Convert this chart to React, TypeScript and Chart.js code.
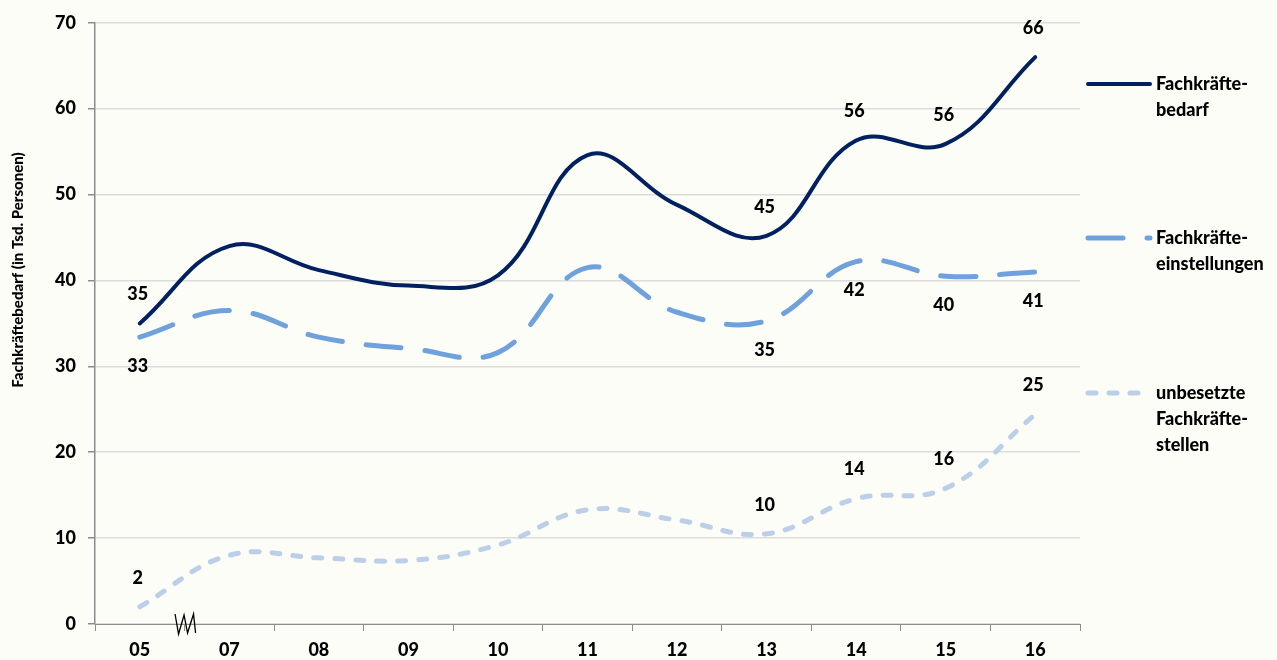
import React, { useEffect, useRef } from "react";
import { Chart, registerables } from "chart.js";

Chart.register(...registerables);

const categories = ["05", "07", "08", "09", "10", "11", "12", "13", "14", "15", "16"];
const bedarf = [35, 44, 41.2, 39.4, 40.6, 54.6, 48.8, 45.2, 56.3, 55.9, 66];
const einstellungen = [33.4, 36.5, 33.4, 32.1, 31.6, 41.5, 36.3, 35.3, 42.2, 40.5, 41];
const unbesetzt = [2, 8, 7.7, 7.4, 9.2, 13.3, 12.1, 10.5, 14.6, 15.8, 24.4];

const bedarfLabels = ["35", null, null, null, null, null, null, "45", "56", "56", "66"];
const einstellungenLabels = ["33", null, null, null, null, null, null, "35", "42", "40", "41"];
const unbesetztLabels = ["2", null, null, null, null, null, null, "10", "14", "16", "25"];

const seriesNames = [
  ["Fachkräfte-", "bedarf"],
  ["Fachkräfte-", "einstellungen"],
  ["unbesetzte", "Fachkräfte-", "stellen"],
];
const yTitle = "Fachkräftebedarf (in Tsd. Personen)";
const yTicks = [0, 10, 20, 30, 40, 50, 60, 70];

const FONT = "Lato, 'Noto Sans', sans-serif";
const WEIGHT = "900";
const BG = "#fdfdf8";

const labelSets = [bedarfLabels, einstellungenLabels, unbesetztLabels];
const labelSide = [-1, 1, -1];

const bgPlugin = {
  id: "bgFill",
  beforeDraw(chart: any) {
    const ctx = chart.ctx;
    ctx.save();
    ctx.fillStyle = BG;
    ctx.fillRect(0, 0, chart.width, chart.height);
    ctx.restore();
  },
};

const labelPlugin = {
  id: "pointLabels",
  afterDatasetsDraw(chart: any) {
    const ctx = chart.ctx;
    ctx.save();
    ctx.font = `${WEIGHT} 18px ${FONT}`;
    ctx.fillStyle = "#000";
    ctx.textAlign = "center";
    ctx.textBaseline = "middle";
    chart.data.datasets.forEach((ds: any, i: number) => {
      const meta = chart.getDatasetMeta(i);
      const labels = labelSets[i];
      meta.data.forEach((pt: any, j: number) => {
        const t = labels[j];
        if (t == null) return;
        ctx.fillText(t, pt.x - 2, pt.y + labelSide[i] * 29);
      });
    });
    ctx.restore();
  },
};

const titlePlugin = {
  id: "yTitle",
  afterDraw(chart: any) {
    const ctx = chart.ctx;
    ctx.save();
    ctx.translate(18, 270);
    ctx.rotate(-Math.PI / 2);
    ctx.font = `${WEIGHT} 15px ${FONT}`;
    ctx.fillStyle = "#000";
    ctx.textAlign = "center";
    ctx.textBaseline = "middle";
    ctx.fillText(yTitle, 0, 0);
    ctx.restore();
  },
};

const legendPlugin = {
  id: "customLegend",
  afterDraw(chart: any) {
    const ctx = chart.ctx;
    const area = chart.chartArea;
    const x0 = area.right + 8;
    const x1 = area.right + 70;
    const tx = area.right + 76;
    const ys = [84, 238, 393];
    ctx.save();
    chart.data.datasets.forEach((ds: any, i: number) => {
      const y = ys[i];
      ctx.beginPath();
      ctx.strokeStyle = ds.borderColor;
      ctx.lineWidth = ds.borderWidth;
      ctx.lineCap = "round";
      ctx.setLineDash(ds.borderDash || []);
      ctx.moveTo(x0, y);
      ctx.lineTo(x1, y);
      ctx.stroke();
      ctx.setLineDash([]);
      ctx.font = `${WEIGHT} 18px ${FONT}`;
      ctx.fillStyle = "#000";
      ctx.textAlign = "left";
      ctx.textBaseline = "middle";
      seriesNames[i].forEach((line, k) => {
        ctx.fillText(line, tx, y + k * 26);
      });
    });
    ctx.restore();
  },
};

const breakPlugin = {
  id: "axisBreak",
  afterDraw(chart: any) {
    const xs = chart.scales.x;
    const cx = (xs.getPixelForValue(0) + xs.getPixelForValue(1)) / 2;
    const cy = chart.chartArea.bottom;
    const pts = [
      [-9.5, -10],
      [-6, 10],
      [-0.5, -9],
      [3, 9],
      [9, -10],
      [11, 9],
    ];
    const ctx = chart.ctx;
    ctx.save();
    ctx.strokeStyle = "#000";
    ctx.lineWidth = 1.3;
    ctx.beginPath();
    pts.forEach(([dx, dy], k) => {
      if (k === 0) ctx.moveTo(cx + dx, cy + dy);
      else ctx.lineTo(cx + dx, cy + dy);
    });
    ctx.stroke();
    ctx.restore();
  },
};

export default function App() {
  const ref = useRef<HTMLCanvasElement | null>(null);
  useEffect(() => {
    document.body.style.margin = "0";
    document.body.style.background = BG;
    if (!ref.current) return;
    const chart = new Chart(ref.current, {
      type: "line",
      data: {
        labels: categories,
        datasets: [
          {
            label: seriesNames[0].join(""),
            data: bedarf,
            borderColor: "#002060",
            borderWidth: 4,
            tension: 0.4,
            pointRadius: 0,
            borderCapStyle: "round",
            fill: false,
          },
          {
            label: seriesNames[1].join(""),
            data: einstellungen,
            borderColor: "#6fa1dd",
            borderWidth: 5,
            borderDash: [35, 24],
            borderCapStyle: "round",
            tension: 0.4,
            pointRadius: 0,
            fill: false,
          },
          {
            label: seriesNames[2].join(""),
            data: unbesetzt,
            borderColor: "#bccfe8",
            borderWidth: 5,
            borderDash: [8, 13],
            borderCapStyle: "round",
            tension: 0.4,
            pointRadius: 0,
            fill: false,
          },
        ],
      },
      options: {
        responsive: false,
        animation: false,
        layout: { padding: { top: 22, right: 197, left: 0, bottom: 0 } },
        plugins: {
          legend: { display: false },
          tooltip: { enabled: false },
        },
        scales: {
          x: {
            offset: true,
            grid: {
              display: true,
              offset: true,
              drawOnChartArea: false,
              drawTicks: true,
              tickLength: 7,
              tickColor: "#8c8c8c",
            },
            border: { color: "#8c8c8c", width: 1 },
            ticks: {
              color: "#000",
              font: { family: FONT, size: 18, weight: WEIGHT },
              padding: 8,
              maxRotation: 0,
            },
            afterFit(scale: any) {
              scale.height = 36;
            },
          },
          y: {
            min: 0,
            max: 70,
            afterBuildTicks(scale: any) {
              scale.ticks = yTicks.map((v) => ({ value: v }));
            },
            grid: {
              color: "#dcdcdc",
              lineWidth: 1.5,
              tickColor: "#8c8c8c",
              tickLength: 7,
            },
            border: { color: "#8c8c8c", width: 1.5 },
            ticks: {
              color: "#000",
              font: { family: FONT, size: 18, weight: WEIGHT },
              padding: 12,
            },
            title: { display: false },
            afterFit(scale: any) {
              scale.width = 95;
            },
          },
        },
      },
      plugins: [bgPlugin, labelPlugin, legendPlugin, breakPlugin, titlePlugin],
    } as any);
    return () => chart.destroy();
  }, []);
  return (
    <div style={{ position: "fixed", left: 0, top: 0, width: 1277, height: 660, background: BG }}>
      <canvas ref={ref} width={1277} height={660} />
    </div>
  );
}
